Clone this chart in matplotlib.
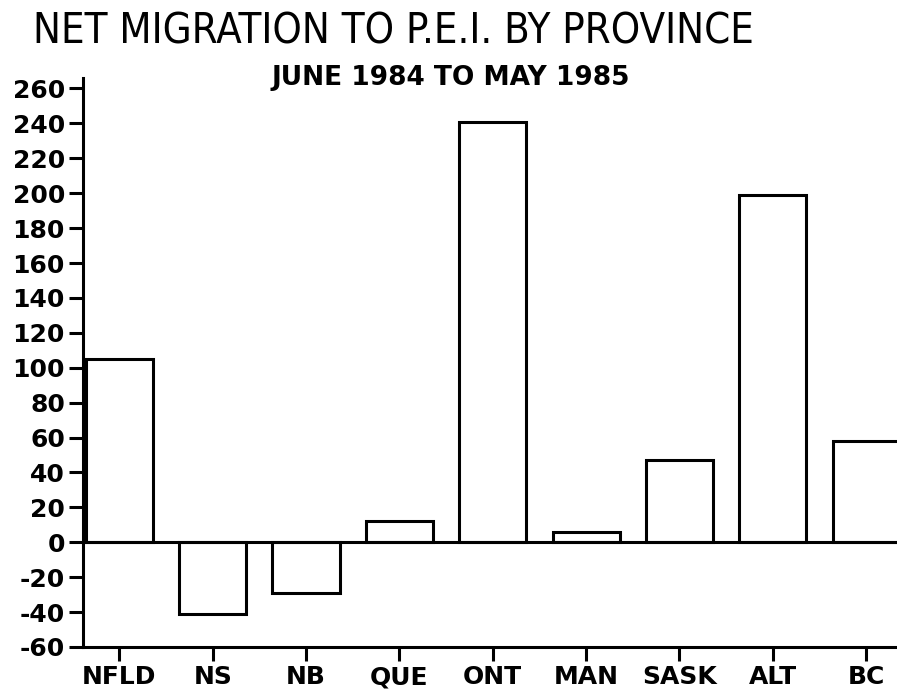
import matplotlib
matplotlib.use("Agg")
import matplotlib.pyplot as plt

provinces = ["NFLD", "NS", "NB", "QUE", "ONT", "MAN", "SASK", "ALT", "BC"]
net_migration = [105, -41, -29, 12, 241, 6, 47, 199, 58]
y_ticks = list(range(-60, 261, 20))

plt.rcParams["font.family"] = ["DejaVu Sans"]

fig = plt.figure(figsize=(8.97, 6.91), dpi=100)
ax = fig.add_axes([83 / 897, 44 / 691, 1 - 83 / 897, 569 / 691])

x = range(len(provinces))
ax.bar(x, net_migration, width=0.72, color="white", edgecolor="black", linewidth=2.2)
ax.axhline(0, color="black", linewidth=2.2)

ax.set_xlim(-0.39, 8.33)
ax.set_ylim(-60, 266)
ax.set_xticks(list(x))
ax.set_xticklabels(provinces, fontsize=18, fontweight="bold")
ax.set_yticks(y_ticks)
ax.set_yticklabels([str(v) for v in y_ticks], fontsize=18, fontweight="bold")
ax.tick_params(axis="y", length=10, width=2.2, pad=3)
ax.tick_params(axis="x", length=10, width=2.2, pad=3)

for side in ["top", "right"]:
    ax.spines[side].set_visible(False)
for side in ["left", "bottom"]:
    ax.spines[side].set_linewidth(2.2)

fig.text(33 / 897, 1 - 32 / 691, "NET MIGRATION TO P.E.I. BY PROVINCE",
         fontsize=30, fontstretch="condensed", va="center", ha="left")
fig.text(451 / 897, 1 - 78 / 691, "JUNE 1984 TO MAY 1985",
         fontsize=19, fontweight="bold", va="center", ha="center")

fig.savefig("out.png", dpi=100)
